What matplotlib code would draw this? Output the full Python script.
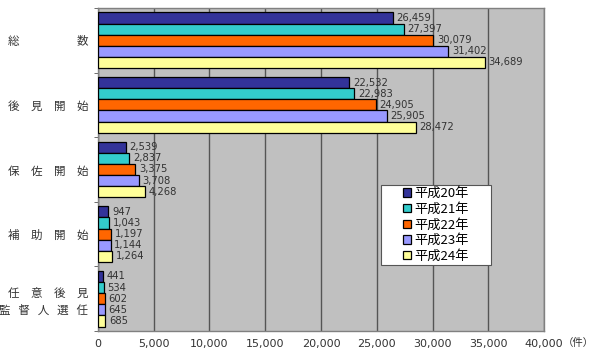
import numpy as np
import matplotlib
matplotlib.use("Agg")
import matplotlib.pyplot as plt
from matplotlib.patches import Rectangle

plt.rcParams['font.family'] = ['Noto Sans CJK JP', 'DejaVu Sans']

categories = ['総　　　　　数', '後　見　開　始', '保　佐　開　始', '補　助　開　始',
              '任　意　後　見\n監   督   人   選   任']
years = ['平成20年', '平成21年', '平成22年', '平成23年', '平成24年']
h20 = [26459, 22532, 2539, 947, 441]
h21 = [27397, 22983, 2837, 1043, 534]
h22 = [30079, 24905, 3375, 1197, 602]
h23 = [31402, 25905, 3708, 1144, 645]
h24 = [34689, 28472, 4268, 1264, 685]
series = [h20, h21, h22, h23, h24]
colors = ['#333399', '#33CCCC', '#FF6600', '#9999FF', '#FFFF99']
xticks = np.arange(0, 40001, 5000)

fig = plt.figure(figsize=(6, 3.61), dpi=100)
ax = fig.add_axes([0.163, 0.083, 0.744, 0.895])
ax.set_facecolor('#C0C0C0')

n = len(categories)
bh = 0.172
for i, vals in enumerate(series):
    y = np.arange(n) + (i - 2) * bh
    ax.barh(y, vals, height=bh, color=colors[i], edgecolor='black',
            linewidth=0.9, label=years[i], zorder=3)
    for yy, v in zip(y, vals):
        ax.text(v + 320, yy, f'{v:,}', va='center', ha='left',
                fontsize=7.2, family='DejaVu Sans', color='#333333', zorder=4)

ax.set_xlim(0, 40000)
ax.set_ylim(n - 0.5, -0.5)
ax.set_xticks(xticks)
ax.set_xticklabels([f'{t:,}' for t in xticks], fontsize=8, family='DejaVu Sans',
                   color='#333333')
ax.set_yticks(np.arange(n))
ax.set_yticklabels(categories, fontsize=8.3, color='#333333', linespacing=1.35)
ax.set_yticks(np.arange(n + 1) - 0.5, minor=True)
ax.tick_params(axis='y', which='major', length=0, pad=7)
ax.tick_params(axis='y', which='minor', length=3, color='#555555')
ax.tick_params(axis='x', length=0, pad=6)
ax.grid(axis='x', color='#555555', linewidth=1, zorder=1)
for s in ax.spines.values():
    s.set_color('#808080')
    s.set_linewidth(1)

fig.text(563 / 600, 1 - 343 / 361, '（件）', fontsize=7.5,
         color='#333333', ha='left', va='center')

# legend box
box = Rectangle((381 / 600, 1 - 265 / 361), 110 / 600, 80 / 361,
                transform=fig.transFigure, facecolor='white',
                edgecolor='#555555', linewidth=0.8, zorder=5)
fig.add_artist(box)
leg = fig.legend(loc='center', bbox_to_anchor=(436 / 600, 1 - 225 / 361),
                 fontsize=9.5, frameon=False,
                 handlelength=0.6, handleheight=0.6, handletextpad=0.3,
                 labelspacing=0.2, borderpad=0)
leg.set_zorder(6)

fig.savefig('out.png', dpi=100)
